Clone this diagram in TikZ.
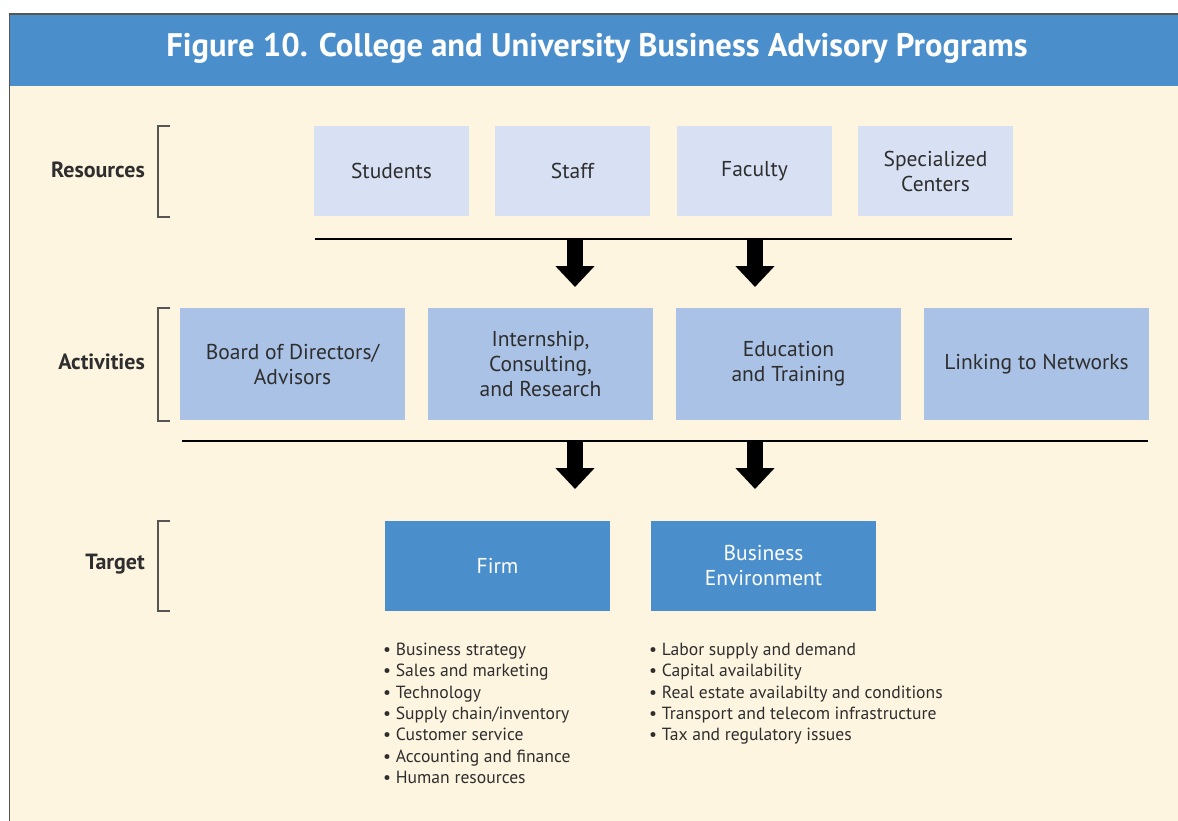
\documentclass[tikz,border=0pt]{standalone}
\usepackage{fontspec}
\setmainfont{PT Sans}
\usetikzlibrary{arrows.meta}
\definecolor{cream}{HTML}{FEF5E1}
\definecolor{titleblue}{HTML}{4A8FCB}
\definecolor{resbox}{HTML}{D8E1F3}
\definecolor{actbox}{HTML}{A9C2E5}
\definecolor{txt}{HTML}{2E2E2E}
\definecolor{framegray}{HTML}{555555}
\begin{document}
\begin{tikzpicture}[x=1pt,y=-1pt,
  boxbase/.style={inner sep=0pt, outer sep=0pt, anchor=north west, align=center,
    font=\fontsize{21.5}{25}\selectfont},
  resbox/.style={boxbase, fill=resbox, text=txt, minimum width=155pt, minimum height=90pt},
  actbox/.style={boxbase, fill=actbox, text=txt, minimum width=225pt, minimum height=112pt},
  tgtbox/.style={boxbase, fill=titleblue, text=white, minimum width=225pt, minimum height=90pt},
  rowlabel/.style={anchor=east, inner sep=0pt, text=txt, font=\fontsize{22}{26}\selectfont\bfseries},
  bracket/.style={draw=framegray, line width=1.3pt},
  divider/.style={draw=black, line width=2.6pt},
  bigarrow/.style={draw=black, line width=16pt, -{Triangle[width=38pt,length=21pt]}},
  bullets/.style={anchor=north west, inner sep=0pt, align=left, text=txt,
    font=\fontsize{17.6}{21.33}\selectfont}]
\useasboundingbox (0,0) rectangle (1178,821);
\fill[white] (0,0) rectangle (1178,821);
% panel
\fill[cream] (10,14) rectangle (1178,821);
\fill[titleblue] (10,14) rectangle (1178,86);
\draw[framegray, line width=1.6pt] (9.5,821) -- (9.5,14) -- (1178,14);
\node[text=white, font=\fontsize{32.6}{38}\selectfont\bfseries] (title) at (597,48)
  {Figure 10. College and University Business Advisory Programs};

% row labels and brackets
\node[rowlabel] (lres) at (145,170) {Resources};
\node[rowlabel] (lact) at (145,362) {Activities};
\node[rowlabel] (ltgt) at (145,564) {Target};
\draw[bracket] (170,126) -| (158,217) -- (170,217);
\draw[bracket] (170,308) -| (158,421) -- (170,421);
\draw[bracket] (170,521) -| (158,611) -- (170,611);

% resources
\node[resbox] (students) at (314,126) {Students};
\node[resbox] (staff) at (495,126) {Staff};
\node[resbox] (faculty) at (677,126) {Faculty};
\node[resbox] (centers) at (858,126) {Specialized\\Centers};

% divider 1 and arrows
\coordinate (d1w) at (315,239);
\coordinate (d1e) at (1012,239);
\draw[divider] (d1w) -- (d1e);
\coordinate (a1s) at (575,239);
\coordinate (a1t) at (575,287);
\coordinate (a2s) at (755,239);
\coordinate (a2t) at (755,287);
\draw[bigarrow] (a1s) -- (a1t);
\draw[bigarrow] (a2s) -- (a2t);

% activities
\node[actbox] (board) at (180,308) {Board of Directors/\\Advisors};
\node[actbox] (intern) at (428,308) {Internship,\\Consulting,\\and Research};
\node[actbox] (educ) at (676,308) {Education\\and Training};
\node[actbox] (link) at (924,308) {Linking to Networks};

% divider 2 and arrows
\coordinate (d2w) at (182,441);
\coordinate (d2e) at (1148,441);
\draw[divider] (d2w) -- (d2e);
\coordinate (b1s) at (575,441);
\coordinate (b1t) at (575,489);
\coordinate (b2s) at (755,441);
\coordinate (b2t) at (755,489);
\draw[bigarrow] (b1s) -- (b1t);
\draw[bigarrow] (b2s) -- (b2t);

% targets
\node[tgtbox] (firm) at (385,521) {Firm};
\node[tgtbox] (env) at (651,521) {Business\\Environment};

% bullet lists
\node[bullets] (firmlist) at (383,643) {• Business strategy\\• Sales and marketing\\• Technology\\• Supply chain/inventory\\• Customer service\\• Accounting and finance\\• Human resources};
\node[bullets] (envlist) at (649,643) {• Labor supply and demand\\• Capital availability\\• Real estate availabilty and conditions\\• Transport and telecom infrastructure\\• Tax and regulatory issues};
\end{tikzpicture}
\end{document}
